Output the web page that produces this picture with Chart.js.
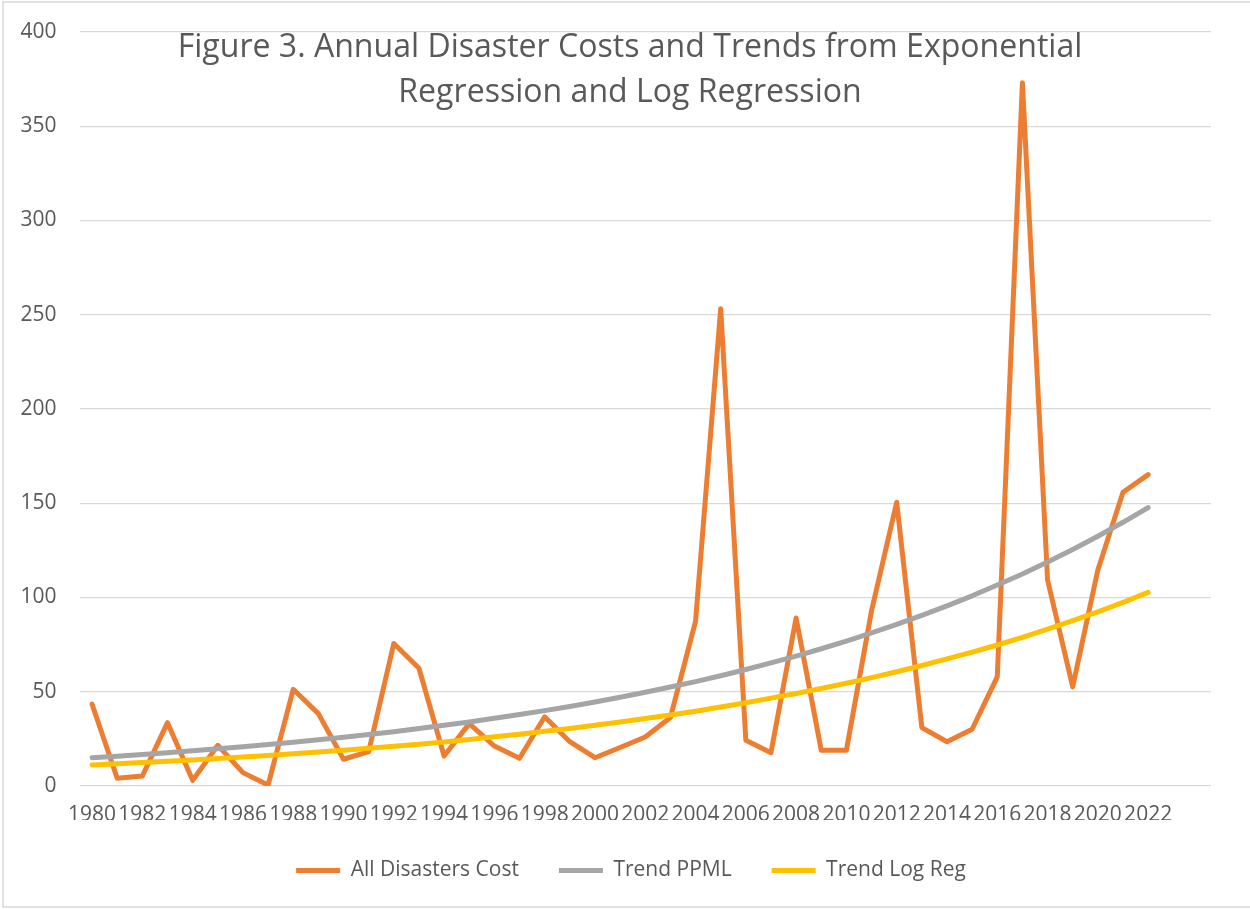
<!DOCTYPE html>
<html>
<head>
<meta charset="utf-8">
<script src="https://cdn.jsdelivr.net/npm/chart.js@4.4.1/dist/chart.umd.min.js"></script>
<style>
  html, body { margin: 0; padding: 0; background: #fff; }
  #wrap { width: 1250px; height: 909px; position: relative; }
</style>
</head>
<body>
<div id="wrap"><canvas id="c" width="1250" height="909"></canvas></div>
<script>
// ---- data ----
const years = ['1980','1981','1982','1983','1984','1985','1986','1987','1988','1989',
  '1990','1991','1992','1993','1994','1995','1996','1997','1998','1999',
  '2000','2001','2002','2003','2004','2005','2006','2007','2008','2009',
  '2010','2011','2012','2013','2014','2015','2016','2017','2018','2019',
  '2020','2021','2022','',''];

const allDisastersCost = [43.4, 4.1, 5.3, 33.6, 3.0, 21.6, 7.1, 0.5, 51.3, 38.4,
  14.2, 18.2, 75.6, 62.5, 15.9, 33.1, 21.2, 14.7, 36.7, 23.5,
  15.0, 20.4, 26.0, 36.3, 87.3, 253.2, 24.3, 17.7, 89.1, 19.0,
  19.0, 93.0, 150.5, 31.0, 23.5, 30.1, 57.9, 373.1, 109.3, 52.6,
  114.6, 155.8, 165.2];

const trendPPML = [15.0, 15.8, 16.7, 17.7, 18.7, 19.7, 20.8, 22.0, 23.2, 24.5,
  25.9, 27.3, 28.8, 30.5, 32.2, 34.0, 35.9, 37.9, 40.0, 42.2,
  44.6, 47.1, 49.7, 52.5, 55.4, 58.5, 61.8, 65.3, 68.9, 72.8,
  76.9, 81.2, 85.7, 90.5, 95.6, 100.9, 106.6, 112.5, 118.8, 125.5,
  132.5, 139.9, 147.7];

const trendLogReg = [11.2, 11.8, 12.5, 13.1, 13.8, 14.6, 15.4, 16.2, 17.1, 18.0,
  19.0, 20.0, 21.1, 22.2, 23.4, 24.7, 26.1, 27.5, 29.0, 30.5,
  32.2, 33.9, 35.8, 37.7, 39.7, 41.9, 44.2, 46.6, 49.1, 51.7,
  54.5, 57.5, 60.6, 63.9, 67.4, 71.0, 74.8, 78.9, 83.2, 87.7,
  92.4, 97.4, 102.7];

const yTicks = [0, 50, 100, 150, 200, 250, 300, 350, 400];
const titleLines = ['Figure 3. Annual Disaster Costs and Trends from Exponential',
                    'Regression and Log Regression'];
const seriesNames = ['All Disasters Cost', 'Trend PPML', 'Trend Log Reg'];

// ---- styling ----
const FONT = "'Open Sans', 'Liberation Sans', sans-serif";
const TXT = '#595959';

const decor = {
  id: 'decor',
  beforeDraw(chart) {
    const c = chart.ctx;
    c.save();
    c.fillStyle = '#ffffff';
    c.fillRect(0, 0, chart.width, chart.height);
    c.strokeStyle = '#d9d9d9';
    c.lineWidth = 1.5;
    c.strokeRect(3, 2, 1250, 905);
    c.restore();
  },
  afterDraw(chart) {
    const c = chart.ctx;
    c.save();
    let size = 30;
    c.font = size + 'px ' + FONT;
    const w = c.measureText(titleLines[0]).width;
    size = size * 905 / w;
    c.font = size + 'px ' + FONT;
    c.fillStyle = TXT;
    c.textAlign = 'center';
    c.textBaseline = 'alphabetic';
    c.fillText(titleLines[0], 630, 57);
    c.fillText(titleLines[1], 630, 102);
    c.restore();
  }
};

const ds = (label, data, color, order) => ({
  label, data,
  borderColor: color, backgroundColor: color,
  borderWidth: 5, borderCapStyle: 'round', borderJoinStyle: 'round',
  pointRadius: 0, pointHoverRadius: 0, tension: 0, fill: false, order
});

new Chart(document.getElementById('c'), {
  type: 'line',
  data: {
    labels: years,
    datasets: [
      ds(seriesNames[0], allDisastersCost, '#ED7D31', 3),
      ds(seriesNames[1], trendPPML, '#A5A5A5', 2),
      ds(seriesNames[2], trendLogReg, '#FFC000', 1)
    ]
  },
  options: {
    responsive: false,
    animation: false,
    events: [],
    layout: { padding: { left: 51, right: 39, top: 32, bottom: 18 } },
    scales: {
      x: {
        type: 'category',
        offset: true,
        grid: { display: false, drawTicks: false },
        border: { display: false },
        ticks: {
          autoSkip: false, maxRotation: 0, minRotation: 0, padding: 16,
          color: TXT, font: { family: FONT, size: 21 },
          callback(v, i) { return i % 2 === 0 ? years[i] : ''; }
        },
        afterFit(s) { s.height = 34; }
      },
      y: {
        min: 0, max: 400,
        afterBuildTicks(s) { s.ticks = yTicks.map(v => ({ value: v })); },
        grid: { color: '#d9d9d9', lineWidth: 1.3, drawTicks: false },
        border: { display: false },
        ticks: { padding: 23, color: TXT, font: { family: FONT, size: 21, lineHeight: 0.5 } },
        afterFit(s) {
          s.width = 28.5;
          s._computeLabelArea = function () { return undefined; };
        }
      }
    },
    plugins: {
      title: { display: false },
      tooltip: { enabled: false },
      legend: {
        position: 'bottom',
        labels: {
          usePointStyle: true, pointStyle: 'line', pointStyleWidth: 44,
          padding: 40, color: TXT, font: { family: FONT, size: 21 },
          sort: (a, b) => a.datasetIndex - b.datasetIndex
        }
      }
    }
  },
  plugins: [decor]
});
</script>
</body>
</html>
